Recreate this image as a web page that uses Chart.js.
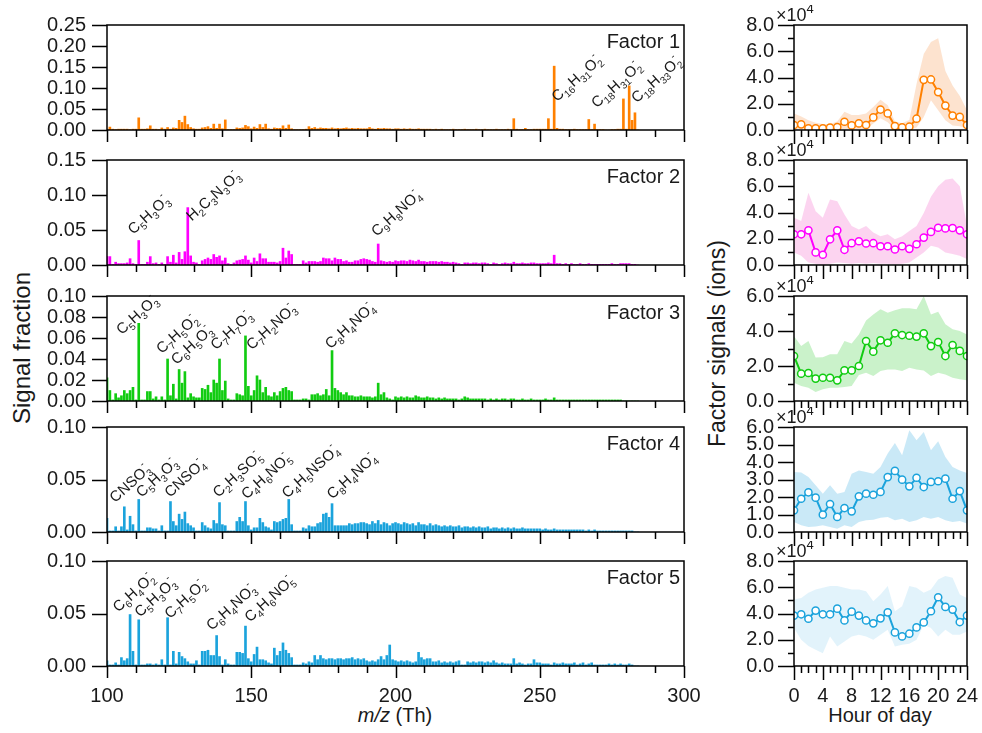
<!DOCTYPE html>
<html>
<head>
<meta charset="utf-8">
<script src="https://cdn.jsdelivr.net/npm/chart.js@4.4.1/dist/chart.umd.min.js"></script>
<style>
  body { margin: 0; background: #fff; }
  #wrap { position: relative; width: 982px; height: 733px; font-family: 'Liberation Sans', Arial, sans-serif; color: #1a1a1a; }
  canvas { position: absolute; }
  .title { position: absolute; white-space: nowrap; text-align: center; }
  .rot { transform: rotate(-90deg); }
</style>
</head>
<body>
<div id="wrap">
  <div class="title rot" style="left:-128px; top:334px; width:300px; font-size:24px;">Signal fraction</div>
  <div class="title rot" style="left:567px; top:330px; width:300px; font-size:23px;">Factor signals (ions)</div>
  <div class="title" style="left:295px; top:704px; width:200px; font-size:20px;"><i>m/z</i> (Th)</div>
  <div class="title" style="left:780px; top:704px; width:200px; font-size:20px;">Hour of day</div>
</div>
<script>
// ---------- mass spectra (signal fraction per integer m/z, starting at 100) ----------
var MZ_START = 100;

var factor1 = [
  0.002, 0.007, 0.002, 0.001, 0.002, 0.002, 0.002, 0.002, 0.001, 0.002,
  0.002, 0.029, 0.002, 0.002, 0.003, 0.010, 0.002, 0.002, 0.001, 0.005,
  0.002, 0.006, 0.002, 0.005, 0.004, 0.023, 0.018, 0.033, 0.013, 0.006,
  0.003, 0.002, 0.002, 0.005, 0.006, 0.008, 0.004, 0.014, 0.004, 0.014,
  0.003, 0.024, 0.001, 0.001, 0.001, 0.005, 0.004, 0.005, 0.011, 0.008,
  0.003, 0.007, 0.004, 0.013, 0.006, 0.014, 0.003, 0.002, 0.005, 0.004,
  0.004, 0.010, 0.004, 0.012, 0.003, 0.001, 0.001, 0.001, 0.001, 0.002,
  0.008, 0.004, 0.006, 0.003, 0.005, 0.004, 0.004, 0.003, 0.005, 0.003,
  0.004, 0.003, 0.004, 0.005, 0.003, 0.004, 0.003, 0.004, 0.003, 0.003,
  0.003, 0.006, 0.003, 0.002, 0.004, 0.003, 0.004, 0.003, 0.003, 0.002,
  0.003, 0.003, 0.002, 0.003, 0.002, 0.003, 0.002, 0.002, 0.003, 0.002,
  0.002, 0.002, 0.002, 0.001, 0.002, 0.001, 0.002, 0.001, 0.001, 0.001,
  0.002, 0.001, 0.001, 0.001, 0.002, 0.001, 0.001, 0.001, 0.002, 0.001,
  0.001, 0.002, 0.001, 0.001, 0.001, 0.002, 0.001, 0.001, 0.001, 0.002,
  0.001, 0.027, 0.002, 0.001, 0.001, 0.004, 0.001, 0.001, 0.002, 0.002,
  0.002, 0.002, 0.002, 0.027, 0.002, 0.152, 0.004, 0.002, 0.002, 0.001,
  0.001, 0.001, 0.002, 0.001, 0.001, 0.001, 0.001, 0.025, 0.001, 0.014,
  0.001, 0.001, 0.001, 0.000, 0.000, 0.001, 0.001, 0.002, 0.002, 0.074,
  0.002, 0.105, 0.023, 0.041, 0.000
];
var factor2 = [
  0.012, 0.012, 0.001, 0.004, 0.002, 0.002, 0.002, 0.003, 0.009, 0.002,
  0.001, 0.035, 0.001, 0.001, 0.004, 0.012, 0.002, 0.003, 0.001, 0.003,
  0.001, 0.012, 0.004, 0.014, 0.003, 0.018, 0.008, 0.019, 0.082, 0.013,
  0.004, 0.003, 0.001, 0.006, 0.008, 0.010, 0.008, 0.015, 0.011, 0.013,
  0.006, 0.010, 0.002, 0.001, 0.003, 0.006, 0.007, 0.008, 0.013, 0.007,
  0.003, 0.010, 0.005, 0.016, 0.009, 0.009, 0.004, 0.004, 0.004, 0.003,
  0.005, 0.024, 0.010, 0.020, 0.015, 0.001, 0.001, 0.001, 0.006, 0.003,
  0.005, 0.005, 0.005, 0.004, 0.005, 0.010, 0.009, 0.009, 0.006, 0.010,
  0.008, 0.008, 0.005, 0.006, 0.004, 0.004, 0.006, 0.006, 0.008, 0.009,
  0.008, 0.007, 0.005, 0.004, 0.030, 0.006, 0.005, 0.004, 0.005, 0.004,
  0.006, 0.005, 0.006, 0.006, 0.005, 0.007, 0.006, 0.005, 0.007, 0.005,
  0.005, 0.004, 0.005, 0.005, 0.005, 0.004, 0.005, 0.004, 0.004, 0.003,
  0.004, 0.003, 0.002, 0.001, 0.003, 0.003, 0.002, 0.003, 0.003, 0.002,
  0.003, 0.003, 0.002, 0.001, 0.003, 0.002, 0.001, 0.002, 0.003, 0.002,
  0.002, 0.004, 0.002, 0.002, 0.003, 0.002, 0.002, 0.003, 0.003, 0.002,
  0.002, 0.002, 0.002, 0.003, 0.002, 0.014, 0.002, 0.002, 0.001, 0.002,
  0.001, 0.002, 0.001, 0.001, 0.002, 0.001, 0.001, 0.002, 0.001, 0.001,
  0.001, 0.001, 0.001, 0.001, 0.001, 0.002, 0.001, 0.001, 0.002, 0.002,
  0.002, 0.002, 0.001, 0.001, 0.000
];
var factor3 = [
  0.022, 0.010, 0.001, 0.007, 0.003, 0.005, 0.010, 0.007, 0.010, 0.013,
  0.001, 0.074, 0.001, 0.001, 0.009, 0.009, 0.002, 0.004, 0.001, 0.004,
  0.001, 0.040, 0.005, 0.016, 0.002, 0.030, 0.017, 0.028, 0.003, 0.007,
  0.004, 0.003, 0.003, 0.012, 0.011, 0.015, 0.008, 0.020, 0.017, 0.040,
  0.010, 0.019, 0.002, 0.001, 0.001, 0.007, 0.006, 0.005, 0.062, 0.014,
  0.005, 0.010, 0.024, 0.020, 0.008, 0.013, 0.005, 0.004, 0.008, 0.005,
  0.009, 0.012, 0.013, 0.010, 0.009, 0.001, 0.001, 0.001, 0.002, 0.002,
  0.001, 0.006, 0.006, 0.007, 0.005, 0.006, 0.011, 0.005, 0.048, 0.012,
  0.010, 0.008, 0.006, 0.008, 0.005, 0.005, 0.004, 0.004, 0.005, 0.004,
  0.004, 0.004, 0.003, 0.004, 0.017, 0.006, 0.008, 0.003, 0.002, 0.001,
  0.004, 0.003, 0.004, 0.003, 0.004, 0.003, 0.003, 0.005, 0.004, 0.003,
  0.003, 0.004, 0.003, 0.003, 0.002, 0.003, 0.002, 0.003, 0.002, 0.002,
  0.002, 0.002, 0.001, 0.002, 0.004, 0.003, 0.002, 0.002, 0.002, 0.002,
  0.002, 0.002, 0.001, 0.002, 0.001, 0.002, 0.001, 0.002, 0.002, 0.001,
  0.002, 0.002, 0.001, 0.001, 0.002, 0.001, 0.001, 0.002, 0.001, 0.001,
  0.001, 0.001, 0.002, 0.001, 0.001, 0.003, 0.001, 0.001, 0.001, 0.001,
  0.001, 0.001, 0.001, 0.001, 0.001, 0.001, 0.001, 0.001, 0.001, 0.001,
  0.001, 0.001, 0.001, 0.001, 0.001, 0.001, 0.001, 0.001, 0.001, 0.000,
  0.000, 0.000, 0.000, 0.000, 0.000
];
var factor4 = [
  0.013, 0.001, 0.001, 0.005, 0.001, 0.005, 0.024, 0.002, 0.015, 0.007,
  0.001, 0.031, 0.001, 0.001, 0.004, 0.004, 0.003, 0.003, 0.001, 0.006,
  0.001, 0.001, 0.029, 0.010, 0.006, 0.017, 0.012, 0.019, 0.008, 0.006,
  0.004, 0.001, 0.001, 0.009, 0.006, 0.004, 0.003, 0.011, 0.008, 0.028,
  0.007, 0.006, 0.001, 0.001, 0.001, 0.010, 0.014, 0.010, 0.029, 0.006,
  0.002, 0.004, 0.004, 0.013, 0.009, 0.005, 0.004, 0.002, 0.010, 0.009,
  0.010, 0.012, 0.013, 0.031, 0.007, 0.001, 0.001, 0.001, 0.004, 0.003,
  0.006, 0.005, 0.005, 0.008, 0.009, 0.017, 0.018, 0.014, 0.027, 0.006,
  0.006, 0.006, 0.006, 0.006, 0.008, 0.007, 0.008, 0.008, 0.009, 0.009,
  0.008, 0.007, 0.010, 0.008, 0.011, 0.007, 0.009, 0.008, 0.006, 0.008,
  0.009, 0.008, 0.007, 0.009, 0.008, 0.007, 0.008, 0.006, 0.009, 0.007,
  0.007, 0.006, 0.008, 0.006, 0.007, 0.006, 0.005, 0.006, 0.005, 0.006,
  0.005, 0.005, 0.006, 0.004, 0.005, 0.005, 0.004, 0.005, 0.004, 0.005,
  0.004, 0.004, 0.005, 0.003, 0.004, 0.004, 0.003, 0.004, 0.003, 0.004,
  0.003, 0.004, 0.003, 0.003, 0.004, 0.003, 0.003, 0.003, 0.003, 0.003,
  0.003, 0.002, 0.003, 0.002, 0.002, 0.003, 0.002, 0.002, 0.002, 0.002,
  0.002, 0.002, 0.002, 0.002, 0.002, 0.002, 0.001, 0.002, 0.001, 0.002,
  0.001, 0.001, 0.001, 0.001, 0.001, 0.001, 0.001, 0.001, 0.001, 0.001,
  0.001, 0.001, 0.001, 0.000, 0.000
];
var factor5 = [
  0.005, 0.001, 0.001, 0.003, 0.001, 0.008, 0.005, 0.007, 0.049, 0.014,
  0.001, 0.044, 0.001, 0.001, 0.002, 0.002, 0.001, 0.002, 0.001, 0.006,
  0.001, 0.046, 0.001, 0.014, 0.002, 0.013, 0.009, 0.007, 0.004, 0.002,
  0.002, 0.005, 0.001, 0.014, 0.014, 0.015, 0.010, 0.010, 0.029, 0.009,
  0.001, 0.006, 0.002, 0.001, 0.001, 0.013, 0.013, 0.012, 0.038, 0.007,
  0.004, 0.011, 0.018, 0.006, 0.006, 0.005, 0.003, 0.002, 0.017, 0.010,
  0.014, 0.022, 0.015, 0.012, 0.008, 0.001, 0.001, 0.001, 0.003, 0.002,
  0.004, 0.003, 0.010, 0.006, 0.010, 0.007, 0.006, 0.007, 0.007, 0.006,
  0.007, 0.007, 0.006, 0.007, 0.007, 0.008, 0.006, 0.007, 0.006, 0.007,
  0.005, 0.004, 0.005, 0.004, 0.006, 0.009, 0.006, 0.010, 0.020, 0.006,
  0.005, 0.004, 0.005, 0.004, 0.005, 0.004, 0.003, 0.004, 0.013, 0.008,
  0.006, 0.007, 0.007, 0.004, 0.004, 0.005, 0.003, 0.004, 0.003, 0.004,
  0.003, 0.004, 0.005, 0.001, 0.001, 0.004, 0.003, 0.004, 0.003, 0.004,
  0.004, 0.003, 0.004, 0.003, 0.005, 0.003, 0.002, 0.003, 0.002, 0.002,
  0.002, 0.007, 0.002, 0.003, 0.002, 0.001, 0.002, 0.002, 0.006, 0.003,
  0.003, 0.002, 0.002, 0.002, 0.001, 0.003, 0.002, 0.002, 0.003, 0.002,
  0.002, 0.002, 0.003, 0.001, 0.002, 0.003, 0.001, 0.002, 0.003, 0.001,
  0.001, 0.001, 0.001, 0.001, 0.002, 0.001, 0.002, 0.001, 0.002, 0.001,
  0.001, 0.002, 0.001, 0.000, 0.000
];

// peak labels: formula, m/z and signal where the text starts
var labels1 = [['C16H31O2-', 256.0, 0.066], ['C18H31O2-', 269.8, 0.051], ['C18H33O2-', 283.6, 0.063]];
var labels2 = [['C5H3O3-', 109.1, 0.043], ['H2C3N3O3-', 129.4, 0.062], ['C9H8NO4-', 193.5, 0.040]];
var labels3 = [['C5H3O3-', 105.1, 0.0626], ['C7H5O2-', 119.0, 0.0445], ['C6H5O3-', 124.1, 0.034],
               ['C7H7O3-', 137.8, 0.048], ['C7H2NO3-', 150.2, 0.048], ['C8H4NO4-', 177.5, 0.049]];
var labels4 = [['CNSO3-', 102.8, 0.0275], ['C5H3O3-', 112.0, 0.0325], ['CNSO4-', 121.8, 0.0325],
               ['C2H3SO5-', 138.6, 0.0325], ['C4H6NO5-', 148.4, 0.0306], ['C4H5NSO4-', 162.5, 0.0316],
               ['C8H4NO4-', 178.1, 0.0306]];
var labels5 = [['C6H4O2-', 103.9, 0.0508], ['C5H3O3-', 111.4, 0.046], ['C7H5O2-', 121.8, 0.0445],
               ['C6H4NO3-', 136.3, 0.0333], ['C4H6NO5-', 149.6, 0.0413]];

// ---------- diurnal profiles (ions), mean with lower/upper band ----------
var hours = [0, 1, 2, 3, 4, 5, 6, 7, 8, 9, 10, 11, 12, 13, 14, 15, 16, 17, 18, 19, 20, 21, 22, 23, 24];

var diel1 = [3800, 4300, 1300, 1300, 1300, 1800, 2300, 6300, 3500, 5000, 3800, 9600, 15600, 12600, 3000, 2000, 2500, 8600, 38200, 38500, 28900, 18600, 11000, 10000, 3800];
var diel1Hi = [12600, 10200, 7500, 5600, 4600, 4600, 6400, 14000, 11500, 11500, 12600, 17600, 23000, 18900, 6400, 5100, 7700, 35000, 58000, 67000, 70000, 45000, 34000, 26000, 15000];
var diel1Lo = [0, 1300, 500, 300, 200, 300, 400, 1000, 500, 800, 800, 5000, 9000, 6000, 500, 300, 400, 2000, 10000, 22600, 15000, 7500, 3500, 2800, 1300];

var diel2 = [23400, 23400, 26400, 9600, 7800, 19600, 26400, 11600, 16600, 18100, 16400, 16600, 14300, 14300, 11800, 14300, 12300, 15800, 20900, 25200, 28400, 27900, 28200, 26400, 23400];
var diel2Hi = [36000, 33500, 55000, 41000, 36000, 50000, 48500, 38500, 29700, 27000, 29700, 24700, 22000, 23400, 19600, 22000, 26000, 29700, 39700, 52000, 60000, 65000, 66000, 60000, 30000];
var diel2Lo = [9600, 7000, 2000, 1000, 0, 1000, 2000, 1500, 1000, 1500, 1000, 1500, 1000, 1000, 500, 1000, 2000, 5800, 9600, 14600, 13300, 9600, 8300, 7000, 4500];

var diel3 = [25700, 15600, 16000, 12800, 13300, 13300, 11800, 17500, 17500, 20000, 34300, 28200, 34700, 33300, 38700, 37700, 37300, 36800, 38700, 31400, 33700, 25700, 32000, 28600, 25700];
var diel3Hi = [37000, 31400, 34300, 24800, 25000, 26700, 26700, 34300, 32800, 38000, 46000, 49500, 52400, 50500, 51800, 53000, 53000, 52400, 60000, 49500, 51000, 43800, 41000, 40000, 38000];
var diel3Lo = [10500, 8600, 7600, 5100, 6700, 7600, 7600, 8000, 8600, 14900, 16200, 14300, 17100, 18000, 18000, 17100, 19000, 18000, 17500, 14300, 16200, 15200, 13300, 12400, 11800];

var diel4 = [12400, 19000, 22700, 19600, 9900, 16000, 8600, 13700, 11800, 20400, 21900, 21300, 22900, 31400, 34900, 29900, 26100, 31000, 25700, 28600, 29000, 30500, 19000, 23400, 12400];
var diel4Hi = [34300, 34000, 31400, 26700, 21900, 26700, 21900, 22900, 33300, 35200, 34300, 33300, 37100, 44800, 50900, 43800, 58100, 52400, 57100, 46700, 51800, 42900, 37100, 35200, 33700];
var diel4Lo = [5700, 3800, 2900, 3200, 3800, 2900, 1900, 3800, 2900, 5700, 6700, 7000, 8200, 8600, 6700, 7600, 5700, 6700, 8600, 7600, 8600, 6700, 5700, 6300, 4800];

var diel5 = [38400, 39400, 36000, 42200, 39400, 39400, 43700, 34700, 41400, 38400, 34700, 32500, 36300, 40900, 25600, 22500, 24600, 29400, 33200, 41700, 52400, 45000, 43000, 33500, 38400];
var diel5Hi = [50600, 51900, 55800, 58300, 59600, 60900, 60900, 59600, 58300, 58300, 57000, 49400, 54500, 60900, 41700, 45500, 60900, 59600, 55800, 58300, 66000, 68500, 67300, 54500, 51900];
var diel5Lo = [28900, 20000, 15300, 12300, 9700, 22500, 14800, 18700, 22500, 23800, 22500, 20000, 23800, 27600, 14800, 16100, 16900, 20000, 31500, 28900, 22500, 27600, 23800, 23800, 26300];

// ---------- drawing ----------
var FONT = "'Liberation Sans', Arial, sans-serif";
var INK = '#1a1a1a';
var tops = [25, 160, 296, 427, 561];
var PH = 105;

function drawFormula(ctx, f, x, y, ang) {
  ctx.save();
  ctx.translate(x, y);
  ctx.rotate(-ang * Math.PI / 180);
  ctx.fillStyle = INK;
  ctx.textAlign = 'left';
  ctx.textBaseline = 'alphabetic';
  var cx = 0, lastSub = null, i = 0;
  while (i < f.length) {
    var ch = f[i];
    if (/[0-9]/.test(ch)) {
      var d = '';
      while (i < f.length && /[0-9]/.test(f[i])) { d += f[i]; i++; }
      ctx.font = '10px ' + FONT;
      ctx.fillText(d, cx, 4);
      lastSub = cx;
      cx += ctx.measureText(d).width;
      continue;
    }
    if (ch === '-') {
      ctx.font = '10px ' + FONT;
      ctx.fillText('-', lastSub !== null ? lastSub + 1 : cx, -8);
    } else {
      ctx.font = '15px ' + FONT;
      ctx.fillText(ch, cx, 0);
      cx += ctx.measureText(ch).width;
      lastSub = null;
    }
    i++;
  }
  ctx.restore();
}

// explicit tick list so the top value is never dropped by rounding
function tickList(max, step) {
  var out = [];
  var n = Math.round(max / step);
  for (var k = 0; k <= n; k++) out.push({ value: +(k * step).toFixed(6) });
  return out;
}

var framePlugin = {
  id: 'frame',
  afterDraw: function (chart, args, o) {
    var ctx = chart.ctx, a = chart.chartArea, sx = chart.scales.x, sy = chart.scales.y;
    ctx.save();
    ctx.strokeStyle = '#000';
    ctx.lineWidth = 1.5;
    ctx.strokeRect(a.left, a.top, a.right - a.left, a.bottom - a.top);
    ctx.beginPath();
    var ny = Math.round((sy.max - sy.min) / o.yMinor);
    for (var k = 0; k <= ny; k++) {
      var v = sy.min + k * o.yMinor;
      var py = Math.round(sy.getPixelForValue(v)) + 0.5;
      var major = Math.abs(v / o.yMajor - Math.round(v / o.yMajor)) < 1e-6;
      ctx.moveTo(a.left - (major ? o.yLen : 6), py); ctx.lineTo(a.left, py);
    }
    var nx = Math.round((sx.max - sx.min) / o.xMinor);
    for (var j = 0; j <= nx; j++) {
      var u = sx.min + j * o.xMinor;
      var px = Math.round(sx.getPixelForValue(u)) + 0.5;
      var maj = Math.abs(u / o.xMajor - Math.round(u / o.xMajor)) < 1e-6;
      ctx.moveTo(px, a.bottom); ctx.lineTo(px, a.bottom + (maj ? o.xLen : 7));
    }
    ctx.stroke();
    if (o.name) {
      ctx.fillStyle = INK;
      ctx.font = '20px ' + FONT;
      ctx.textAlign = 'right';
      ctx.fillText(o.name, a.right - 4, a.top + 23);
    }
    if (o.exp) {
      ctx.fillStyle = INK;
      ctx.textAlign = 'left';
      ctx.font = '18px ' + FONT;
      ctx.fillText('\u00d710', a.left - 18, a.top - 4);
      var w = ctx.measureText('\u00d710').width;
      ctx.font = '13px ' + FONT;
      ctx.fillText('4', a.left - 18 + w, a.top - 12);
    }
    (o.labels || []).forEach(function (l) {
      drawFormula(ctx, l[0], sx.getPixelForValue(l[1]), sy.getPixelForValue(l[2]), 42);
    });
    ctx.restore();
  }
};

function addCanvas(left, top, w, h) {
  var c = document.createElement('canvas');
  c.width = w; c.height = h;
  c.style.left = left + 'px'; c.style.top = top + 'px';
  document.getElementById('wrap').appendChild(c);
  return c.getContext('2d');
}

function xFit(bs) {
  return function (sc) { sc.height = bs; sc.paddingLeft = 0; sc.paddingRight = 0; };
}
function yFit(w) {
  return function (sc) { sc.width = w; sc.paddingTop = 0; sc.paddingBottom = 0; };
}

var spectra = [
  { vals: factor1, color: '#ff8000', max: 0.25, step: 0.05, labels: labels1 },
  { vals: factor2, color: '#ff00ff', max: 0.15, step: 0.05, labels: labels2 },
  { vals: factor3, color: '#11cc11', max: 0.10, step: 0.02, labels: labels3 },
  { vals: factor4, color: '#1ba3dc', max: 0.10, step: 0.05, labels: labels4 },
  { vals: factor5, color: '#1ba3dc', max: 0.10, step: 0.05, labels: labels5 }
];

spectra.forEach(function (s, i) {
  var last = i === 4;
  var bs = last ? 60 : 14;
  var ctx = addCanvas(0, tops[i] - 20, 720, 20 + PH + bs);
  new Chart(ctx, {
    type: 'bar',
    data: {
      datasets: [{
        data: s.vals.map(function (v, k) { return { x: MZ_START + k, y: v }; }),
        backgroundColor: s.color,
        barThickness: 2
      }]
    },
    options: {
      responsive: false,
      animation: false,
      layout: { padding: { top: 20, right: 36, left: 0, bottom: 0 } },
      plugins: {
        legend: { display: false },
        tooltip: { enabled: false },
        frame: { name: 'Factor ' + (i + 1), labels: s.labels, yMajor: s.step, yMinor: s.step, yLen: 15, xMajor: 50, xMinor: 10, xLen: 12 }
      },
      scales: {
        x: {
          type: 'linear', min: 100, max: 300, offset: false,
          grid: { display: false, drawTicks: false }, border: { display: false },
          ticks: { display: last, stepSize: 50, maxRotation: 0, autoSkip: false, padding: 18, color: INK, font: { family: FONT, size: 20 } },
          afterFit: xFit(bs)
        },
        y: {
          min: 0, max: s.max,
          grid: { display: false, drawTicks: false }, border: { display: false },
          afterBuildTicks: function (sc) { sc.ticks = tickList(s.max, s.step); },
          ticks: { autoSkip: false, padding: 21, color: INK, font: { family: FONT, size: 20 },
                   callback: function (v) { return v.toFixed(2); } },
          afterFit: yFit(107)
        }
      }
    },
    plugins: [framePlugin]
  });
});

var diels = [
  { mean: diel1, hi: diel1Hi, lo: diel1Lo, color: '#ff8000', band: 'rgba(252,200,160,0.5)', max: 80000, step: 20000, minor: 10000 },
  { mean: diel2, hi: diel2Hi, lo: diel2Lo, color: '#ff00ff', band: 'rgba(250,170,225,0.5)', max: 80000, step: 20000, minor: 10000 },
  { mean: diel3, hi: diel3Hi, lo: diel3Lo, color: '#11cc11', band: 'rgba(150,230,150,0.5)', max: 60000, step: 20000, minor: 10000 },
  { mean: diel4, hi: diel4Hi, lo: diel4Lo, color: '#1ba3dc', band: 'rgba(150,212,240,0.5)', max: 60000, step: 10000, minor: 10000 },
  { mean: diel5, hi: diel5Hi, lo: diel5Lo, color: '#1ba3dc', band: 'rgba(150,212,240,0.28)', max: 80000, step: 20000, minor: 10000 }
];

function pts(arr) { return arr.map(function (v, k) { return { x: hours[k], y: v }; }); }

diels.forEach(function (d, i) {
  var last = i === 4;
  var bs = last ? 60 : 16;
  var ctx = addCanvas(700, tops[i] - 20, 282, 20 + PH + bs);
  new Chart(ctx, {
    type: 'line',
    data: {
      datasets: [
        { data: pts(d.mean), borderColor: d.color, borderWidth: 2, tension: 0, fill: false, clip: 0, order: 0,
          pointRadius: 3.6, pointBackgroundColor: '#fff', pointBorderColor: d.color, pointBorderWidth: 1.5 },
        { data: pts(d.hi), borderWidth: 0, pointRadius: 0, fill: '+1', backgroundColor: d.band, order: 1 },
        { data: pts(d.lo), borderWidth: 0, pointRadius: 0, fill: false, order: 2 }
      ]
    },
    options: {
      responsive: false,
      animation: false,
      layout: { padding: { top: 20, right: 15, left: 0, bottom: 0 } },
      plugins: {
        legend: { display: false },
        tooltip: { enabled: false },
        frame: { exp: true, yMajor: d.step, yMinor: d.minor, yLen: 16, xMajor: 4, xMinor: 1, xLen: 14 }
      },
      scales: {
        x: {
          type: 'linear', min: 0, max: 24,
          grid: { display: false, drawTicks: false }, border: { display: false },
          ticks: { display: last, stepSize: 4, maxRotation: 0, autoSkip: false, padding: 18, color: INK, font: { family: FONT, size: 20 } },
          afterFit: xFit(bs)
        },
        y: {
          min: 0, max: d.max,
          grid: { display: false, drawTicks: false }, border: { display: false },
          afterBuildTicks: function (sc) { sc.ticks = tickList(d.max, d.step); },
          ticks: { autoSkip: false, padding: 20, color: INK, font: { family: FONT, size: 20 },
                   callback: function (v) { return (v / 10000).toFixed(1); } },
          afterFit: yFit(94)
        }
      }
    },
    plugins: [framePlugin]
  });
});
</script>
</body>
</html>
